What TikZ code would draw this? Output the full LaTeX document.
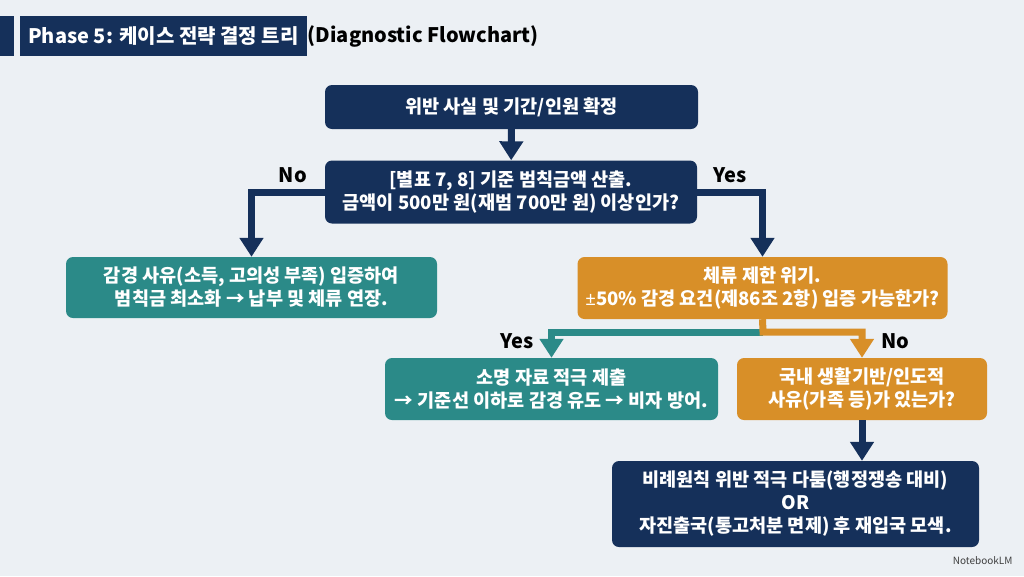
\documentclass[tikz,border=0pt]{standalone}
\usepackage{fontspec}
\setmainfont{Noto Sans CJK KR}
\newfontfamily\latinfont{Noto Sans}
\usetikzlibrary{arrows.meta,positioning}

\definecolor{navy}{HTML}{15305A}
\definecolor{tealbox}{HTML}{2B8A88}
\definecolor{goldbox}{HTML}{D88F28}
\definecolor{paper}{HTML}{ECF0F4}

\tikzset{
  box/.style={rounded corners=7pt, text=white, align=center, inner sep=0pt,
    font=\fontsize{18.6}{23}\selectfont\bfseries},
  navybox/.style={box, fill=navy},
  tealnode/.style={box, fill=tealbox},
  goldnode/.style={box, fill=goldbox},
  flow/.style={line width=7pt, -{Triangle[width=23pt,length=19pt]}},
  answer/.style={font=\fontsize{20}{22}\selectfont\bfseries, text=black},
}

\begin{document}
\begin{tikzpicture}[x=1pt,y=-1pt]
  \fill[paper] (0,0) rectangle (1024,576);
  \useasboundingbox (0,0) rectangle (1024,576);

  % title
  \fill[navy] (0,16) rectangle (14,56);
  \node[fill=navy, text=white, anchor=west, minimum height=40pt, inner sep=8pt,
    font=\fontsize{20}{24}\selectfont\bfseries] (title) at (20,36)
    {Phase 5: 케이스 전략 결정 트리};
  \node[anchor=west, inner sep=1pt, font=\fontsize{20}{24}\selectfont\bfseries]
    (subtitle) at (title.east) {(Diagnostic Flowchart)};

  % boxes
  \node[navybox, minimum width=373pt, minimum height=44pt] (fact) at (511.5,107)
    {위반 사실 및 기간/인원 확정};
  \node[navybox, minimum width=372pt, minimum height=63pt] (calc) at (511,192)
    {[별표 7, 8] 기준 범칙금액 산출.\\금액이 500만 원(재범 700만 원) 이상인가?};
  \node[tealnode, minimum width=371pt, minimum height=61pt] (reduce) at (251.5,287.5)
    {감경 사유(소득, 고의성 부족) 입증하여\\범칙금 최소화 → 납부 및 체류 연장.};
  \node[goldnode, minimum width=370pt, minimum height=62pt] (risk) at (762.5,288)
    {체류 제한 위기.\\{\latinfont ±}50\% 감경 요건(제86조 2항) 입증 가능한가?};
  \node[tealnode, minimum width=333pt, minimum height=62pt] (submit) at (551.5,389)
    {소명 자료 적극 제출\\→ 기준선 이하로 감경 유도 → 비자 방어.};
  \node[goldnode, minimum width=250pt, minimum height=62pt] (human) at (862,389)
    {국내 생활기반/인도적\\사유(가족 등)가 있는가?};
  \node[navybox, minimum width=367pt, minimum height=86pt] (fight) at (795.5,504)
    {비례원칙 위반 적극 다툼(행정쟁송 대비)\\OR\\자진출국(통고처분 면제) 후 재입국 모색.};

  % connectors
  \draw[flow, navy] (fact) -- (calc);
  \draw[flow, navy] (calc.west) -| (reduce.north);
  \draw[flow, navy] (calc.east) -| (risk.north);
  \coordinate (split) at (763,332);
  \draw[flow, tealbox] (split) -| (submit.north);
  \draw[flow, goldbox] (risk.south) -- (split) -| (human.north);
  \draw[flow, navy] (human.south) -- (human.south |- fight.north);

  % answers
  \node[answer] (no1) at (293,175) {No};
  \node[answer] (yes1) at (730,175) {Yes};
  \node[answer] (yes2) at (517,341) {Yes};
  \node[answer] (no2) at (895,341) {No};

  \node[anchor=east, text=black!75, font=\fontsize{10}{11}\selectfont]
    (mark) at (1016,561) {NotebookLM};
\end{tikzpicture}
\end{document}
